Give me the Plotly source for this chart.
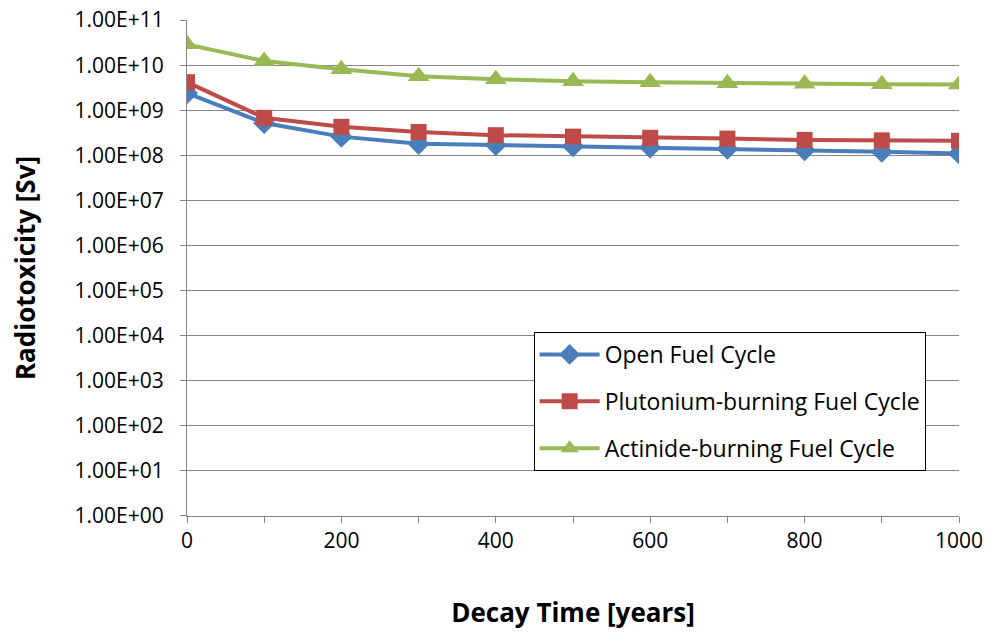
import plotly.graph_objects as go

years = [0, 100, 200, 300, 400, 500, 600, 700, 800, 900, 1000]
open_cycle = [2.4e9, 5.2e8, 2.6e8, 1.8e8, 1.7e8, 1.6e8, 1.5e8, 1.4e8, 1.3e8, 1.2e8, 1.1e8]
pu_cycle = [4.2e9, 6.8e8, 4.3e8, 3.3e8, 2.8e8, 2.6e8, 2.45e8, 2.35e8, 2.2e8, 2.15e8, 2.1e8]
act_cycle = [2.9e10, 1.24e10, 8.1e9, 5.7e9, 4.9e9, 4.4e9, 4.2e9, 4.0e9, 3.9e9, 3.8e9, 3.75e9]

ytick_vals = [float(10 ** k) for k in range(0, 12)]
ytick_text = ["1.00E+%02d" % k for k in range(0, 12)]

font_family = "Open Sans, Noto Sans, sans-serif"

fig = go.Figure()
fig.add_trace(go.Scatter(x=years, y=open_cycle, name="Open Fuel Cycle", mode="lines+markers",
                         legendgroup="a",
                         line=dict(color="#4A7EBB", width=4),
                         marker=dict(symbol="diamond", size=17, color="#4A7EBB")))
fig.add_trace(go.Scatter(x=years, y=pu_cycle, name="Plutonium-burning Fuel Cycle", mode="lines+markers",
                         legendgroup="b",
                         line=dict(color="#BE4B48", width=4),
                         marker=dict(symbol="square", size=16, color="#BE4B48")))
fig.add_trace(go.Scatter(x=years, y=act_cycle, name="Actinide-burning Fuel Cycle", mode="lines+markers",
                         legendgroup="c",
                         line=dict(color="#98B954", width=4),
                         marker=dict(symbol="triangle-up", size=19, color="#98B954")))

fig.update_layout(
    width=989, height=632,
    margin=dict(l=187, r=30, t=20, b=116),
    paper_bgcolor="white", plot_bgcolor="white",
    font=dict(family=font_family, size=21, color="black"),
    showlegend=True,
    legend=dict(x=0.449, y=0.371, xanchor="left", yanchor="top",
                bordercolor="black", borderwidth=1, bgcolor="white",
                font=dict(size=23), itemwidth=60, tracegroupgap=14),
    xaxis=dict(range=[0, 1000], tickvals=[0, 200, 400, 600, 800, 1000], automargin=False,
               showgrid=False, zeroline=False, showline=True, linecolor="#868686", linewidth=1,
               ticks="outside", ticklen=6, tickcolor="#868686",
               minor=dict(tickvals=[100, 300, 500, 700, 900], ticks="outside", ticklen=6, tickcolor="#868686"),
               title=dict(text="<b>Decay Time [years]</b>", font=dict(size=26), standoff=50)),
    yaxis=dict(type="log", range=[-0.003, 11.003], tickvals=ytick_vals, ticktext=ytick_text,
               automargin=False,
               showgrid=True, gridcolor="#868686", gridwidth=1, zeroline=False,
               showline=True, linecolor="#868686", linewidth=1,
               ticks="outside", ticklen=6, tickcolor="#868686", ticklabelstandoff=12,
               ticklabeloverflow="allow",
               title=dict(text="<b>Radiotoxicity [Sv]</b>", font=dict(size=26), standoff=31)),
)

fig.write_html("out.html", config={"displayModeBar": False},
               post_script="document.body.style.margin='0';")
